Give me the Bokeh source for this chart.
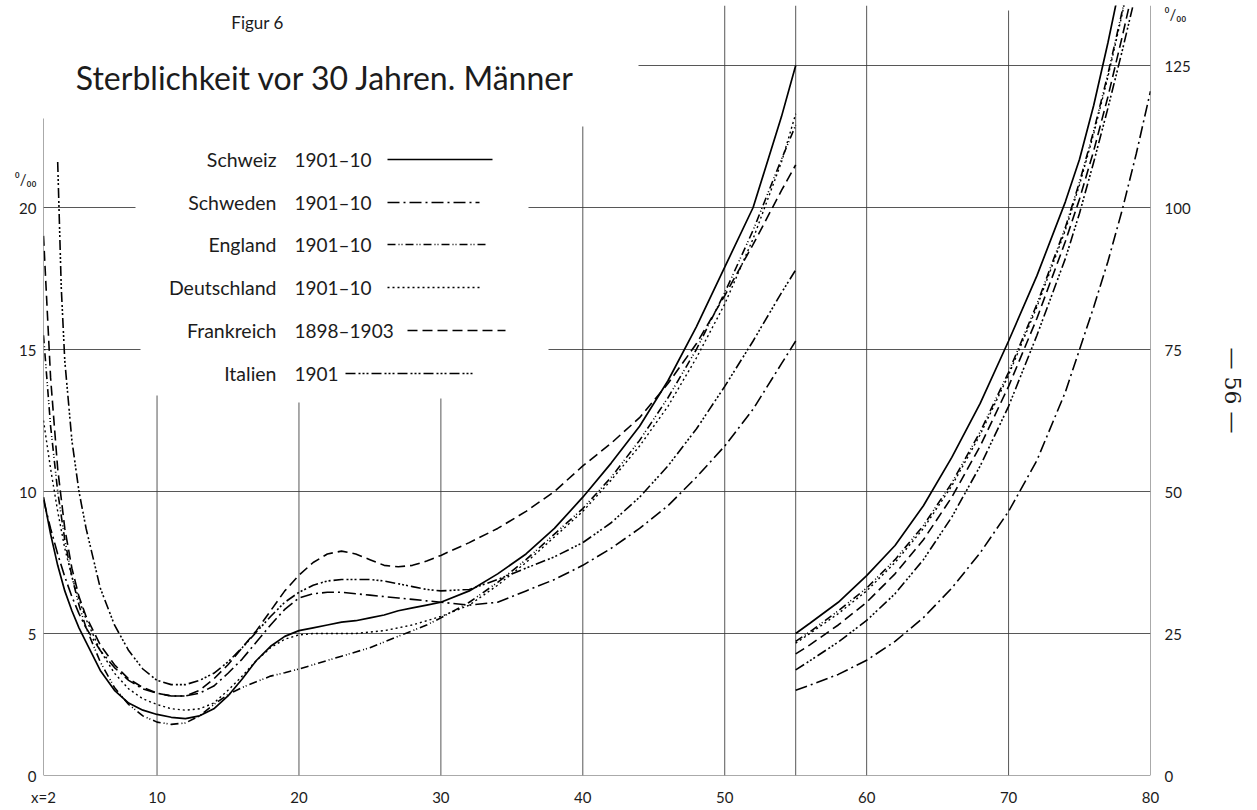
import math
import numpy as np
from bokeh.plotting import figure
from bokeh.models import Range1d, LinearAxis, FixedTicker, Label
from bokeh.embed import file_html
from bokeh.resources import INLINE

# ---------------- data (mortality per mille, males) ----------------
# ages 2..55 : left scale (0/00)
ages_young = [2, 2.5, 3, 3.5, 4, 4.5, 5, 6, 7, 8, 9, 10, 11, 12, 13, 14, 15, 16, 17, 18, 19,
              20, 21, 22, 23, 24, 25, 26, 27, 28, 29, 30, 32, 34, 36, 38, 40, 42, 44, 46, 48,
              50, 52, 54, 55]
schweiz_young = [9.8, 8.5, 7.4, 6.5, 5.8, 5.2, 4.7, 3.7, 3.0, 2.55, 2.3, 2.15, 2.05, 2.0, 2.1,
                 2.35, 2.8, 3.4, 4.05, 4.55, 4.9, 5.1, 5.2, 5.3, 5.4, 5.45, 5.55, 5.65, 5.8, 5.9,
                 6.0, 6.1, 6.5, 7.1, 7.8, 8.7, 9.8, 11.0, 12.3, 13.9, 15.8, 17.9, 20.0, 23.2, 25.0]
schweden_young = [9.7, 8.7, 7.8, 7.0, 6.3, 5.7, 5.2, 4.4, 3.8, 3.35, 3.05, 2.9, 2.8, 2.8, 2.9,
                  3.15, 3.6, 4.1, 4.7, 5.3, 5.85, 6.25, 6.4, 6.45, 6.45, 6.4, 6.35, 6.3, 6.25, 6.2,
                  6.15, 6.1, 6.0, 6.1, 6.5, 6.9, 7.4, 8.0, 8.7, 9.5, 10.5, 11.6, 12.9, 14.5, 15.3]
england_young = [15.5, 12.3, 10.0, 8.3, 7.0, 6.0, 5.2, 4.0, 3.1, 2.5, 2.1, 1.88, 1.8, 1.85, 2.1,
                 2.5, 2.85, 3.1, 3.3, 3.5, 3.62, 3.75, 3.9, 4.05, 4.2, 4.35, 4.5, 4.7, 4.9, 5.1,
                 5.3, 5.55, 6.1, 6.8, 7.6, 8.5, 9.4, 10.5, 11.8, 13.3, 15.0, 17.0, 19.2, 21.7, 22.9]
deutschland_young = [12.5, 10.8, 9.3, 8.0, 7.0, 6.2, 5.5, 4.4, 3.6, 3.05, 2.7, 2.5, 2.35, 2.3,
                     2.35, 2.55, 3.0, 3.5, 4.05, 4.5, 4.8, 4.95, 5.0, 5.0, 5.0, 5.0, 5.05, 5.1,
                     5.2, 5.3, 5.45, 5.6, 6.0, 6.7, 7.5, 8.4, 9.3, 10.4, 11.6, 13.0, 14.7, 16.6,
                     18.9, 21.6, 23.3]
frankreich_young = [19.0, 14.0, 10.8, 8.7, 7.3, 6.3, 5.6, 4.6, 3.9, 3.4, 3.1, 2.9, 2.8, 2.8, 3.0,
                    3.4, 3.9, 4.5, 5.1, 5.8, 6.5, 7.05, 7.5, 7.8, 7.9, 7.8, 7.6, 7.4, 7.35, 7.4,
                    7.55, 7.75, 8.2, 8.7, 9.3, 10.0, 10.9, 11.7, 12.6, 13.8, 15.2, 16.9, 18.7,
                    20.6, 21.5]
italien_ages_young = [3, 3.25, 3.5, 4, 4.5, 5, 6, 7, 8, 9, 10, 11, 12, 13, 14, 15, 16, 17, 18,
                      19, 20, 21, 22, 23, 24, 25, 26, 27, 28, 29, 30, 32, 34, 36, 38, 40, 42,
                      44, 46, 48, 50, 52, 54, 55]
italien_young = [21.6, 17.2, 14.6, 11.8, 10.0, 8.7, 6.6, 5.3, 4.4, 3.75, 3.35, 3.2, 3.2, 3.35,
                 3.6, 4.0, 4.5, 5.05, 5.6, 6.1, 6.45, 6.7, 6.85, 6.9, 6.9, 6.9, 6.85, 6.75, 6.65,
                 6.55, 6.5, 6.55, 6.9, 7.3, 7.7, 8.2, 8.9, 9.8, 10.9, 12.2, 13.7, 15.3, 17.0,
                 17.8]

# ages 55..80 : right scale (0/00)
schweiz_old_ages = [55, 56, 58, 60, 62, 64, 66, 68, 70, 72, 74, 75, 76, 77, 78]
schweiz_old = [25.0, 26.8, 30.5, 35.2, 40.5, 47.5, 56.0, 65.5, 76.5, 88.0, 101.0, 108.5, 118.0,
               129.0, 141.0]
old_ages = [55, 56, 58, 60, 62, 64, 66, 68, 70, 72, 74, 75, 76, 77, 78, 79]
deutschland_old = [23.3, 25.0, 28.5, 32.5, 37.5, 43.5, 51.0, 60.0, 70.5, 82.5, 96.0, 104.0,
                   113.0, 123.0, 134.0, 146.0]
england_old = [23.6, 25.3, 29.0, 33.0, 38.0, 44.0, 51.5, 60.5, 71.0, 83.0, 96.5, 104.5, 113.5,
               123.5, 134.5, 146.0]
frankreich_old = [21.4, 23.0, 26.5, 30.5, 35.5, 41.5, 49.0, 58.0, 68.5, 80.5, 94.0, 101.5, 110.0,
                  119.5, 130.0, 141.0]
italien_old = [18.6, 20.2, 23.5, 27.3, 32.0, 38.0, 45.5, 54.5, 65.0, 77.5, 91.0, 99.0, 108.0,
               117.5, 127.5, 138.0]
schweden_old_ages = [55, 56, 58, 60, 62, 64, 66, 68, 70, 72, 74, 75, 76, 77, 78, 79, 80]
schweden_old = [15.0, 15.9, 17.8, 20.3, 23.6, 27.8, 33.0, 39.2, 46.5, 55.5, 67.5, 75.0, 82.5,
                90.5, 99.5, 109.5, 120.5]

series_names = ["Schweiz", "Schweden", "England", "Deutschland", "Frankreich", "Italien"]
series_periods = ["1901–10", "1901–10", "1901–10", "1901–10", "1898–1903", "1901"]

x_ticks = [2, 10, 20, 30, 40, 50, 60, 70, 80]
left_ticks = [0, 5, 10, 15, 20]
right_ticks = [0, 25, 50, 75, 100, 125]
PERMILLE = "⁰/₀₀"
LEFT_UNIT_AT = 21      # left scale value where the unit mark stands
RIGHT_UNIT_AT = 134    # right scale value where the unit mark stands
PAGE_NUMBER = "— 56 —"

# ---------------- layout ----------------
W, H = 1257, 810
B_LEFT, B_RIGHT, B_TOP, B_BOTTOM = 43, 107, 5, 35
FW = W - B_LEFT - B_RIGHT
FH = H - B_TOP - B_BOTTOM
X_MIN, X_MAX = 2, 80
PX_PER_UNIT = 28.4
Y_MAX = FH / PX_PER_UNIT
RIGHT_FACTOR = 5


def fx(px):
    return X_MIN + (px - B_LEFT) * (X_MAX - X_MIN) / FW


def fy(py):
    return (B_TOP + FH - py) / PX_PER_UNIT


FONT = "Lato"
INK = "#1c1c1c"

p = figure(width=W, height=H, x_range=Range1d(X_MIN, X_MAX), y_range=Range1d(0, Y_MAX),
           output_backend="svg", toolbar_location=None,
           min_border_left=B_LEFT, min_border_right=B_RIGHT,
           min_border_top=B_TOP, min_border_bottom=B_BOTTOM)
p.outline_line_color = None
p.xgrid.visible = False
p.ygrid.visible = False
p.background_fill_color = "white"
p.extra_y_ranges = {"right": Range1d(0, Y_MAX * RIGHT_FACTOR)}

right_axis = LinearAxis(y_range_name="right")
p.add_layout(right_axis, "right")

p.xaxis.ticker = FixedTicker(ticks=x_ticks)
p.xaxis.major_label_overrides = {2: "x=2"}
p.yaxis.ticker = FixedTicker(ticks=left_ticks + [LEFT_UNIT_AT])
p.yaxis.major_label_overrides = {LEFT_UNIT_AT: PERMILLE}
right_axis.ticker = FixedTicker(ticks=right_ticks + [RIGHT_UNIT_AT])
right_axis.major_label_overrides = {RIGHT_UNIT_AT: PERMILLE}

for ax in [p.xaxis[0], p.yaxis[0], right_axis]:
    ax.axis_line_color = None
    ax.major_tick_line_color = None
    ax.minor_tick_line_color = None
    ax.major_tick_out = 0
    ax.major_tick_in = 0
    ax.minor_tick_out = 0
    ax.minor_tick_in = 0
    ax.major_label_text_font = FONT
    ax.major_label_text_font_size = "15px"
    ax.major_label_text_color = INK
p.xaxis.major_label_standoff = 12
p.yaxis.major_label_standoff = 7
right_axis.major_label_standoff = 14

# page number of the printed original, set in the right margin
right_axis.axis_label = PAGE_NUMBER
right_axis.axis_label_text_font = "DejaVu Serif"
right_axis.axis_label_text_font_size = "22px"
right_axis.axis_label_text_font_style = "normal"
right_axis.axis_label_text_color = INK
right_axis.axis_label_standoff = 26

# ---------------- grid (drawn like the original: partial lines) ----------------
GRID = "#3a3a3a"
v_x = [2, 10, 20, 30, 40, 50, 55, 60, 70, 80]
v_top = [fy(118), fy(395), fy(402), fy(398), fy(126), Y_MAX, Y_MAX, Y_MAX, fy(10), Y_MAX]
p.segment(x0=v_x, y0=[0] * len(v_x), x1=v_x, y1=v_top, line_color=GRID, line_width=1,
          line_alpha=0.85)
h_x0 = [2, 2, 2, 2, fx(548), 2, fx(528), fx(638)]
h_x1 = [80, 80, 80, fx(140), 80, fx(135), 80, 80]
h_y = [0, 5, 10, 15, 15, 20, 20, 25]
p.segment(x0=h_x0, y0=h_y, x1=h_x1, y1=h_y, line_color=GRID, line_width=1, line_alpha=0.85)

# ---------------- curves ----------------
dashes = {
    "Schweiz": "solid",
    "Schweden": "12 4 2 4",
    "England": "8 3 1 2 1 3",
    "Deutschland": "2 3",
    "Frankreich": "10 5",
    "Italien": "10 3 2 2 2 2 2 3",
}
widths = {"Schweiz": 1.7, "Schweden": 1.6, "England": 1.6, "Deutschland": 1.4,
          "Frankreich": 1.6, "Italien": 1.6}

young = {
    "Schweiz": (ages_young, schweiz_young),
    "Schweden": (ages_young, schweden_young),
    "England": (ages_young, england_young),
    "Deutschland": (ages_young, deutschland_young),
    "Frankreich": (ages_young, frankreich_young),
    "Italien": (italien_ages_young, italien_young),
}
old = {
    "Schweiz": (schweiz_old_ages, schweiz_old),
    "Schweden": (schweden_old_ages, schweden_old),
    "England": (old_ages, england_old),
    "Deutschland": (old_ages, deutschland_old),
    "Frankreich": (old_ages, frankreich_old),
    "Italien": (old_ages, italien_old),
}
for name in series_names:
    xs, ys = young[name]
    p.line(np.array(xs, dtype=float), np.array(ys, dtype=float), line_color="black",
           line_width=widths[name], line_dash=dashes[name])
    xs, ys = old[name]
    p.line(np.array(xs, dtype=float), np.array(ys, dtype=float), line_color="black",
           line_width=widths[name], line_dash=dashes[name], y_range_name="right")

# ---------------- legend (label left, sample right) ----------------
row_py = [159, 202, 244, 287, 330, 373]
name_right_px = 276
period_left_px = 294
sample_px = [(387, 492), (387, 479), (387, 487), (387, 479), (407, 505), (345, 473)]
for i, name in enumerate(series_names):
    yy = fy(row_py[i])
    p.add_layout(Label(x=fx(name_right_px), y=yy, text=name, text_align="right",
                       text_baseline="middle", text_font=FONT, text_font_size="19.5px",
                       text_color=INK))
    p.add_layout(Label(x=fx(period_left_px), y=yy, text=series_periods[i], text_align="left",
                       text_baseline="middle", text_font=FONT, text_font_size="19px",
                       text_color=INK))
    sx0, sx1 = sample_px[i]
    p.line([fx(sx0), fx(sx1)], [yy, yy], line_color="black", line_width=widths[name],
           line_dash=dashes[name])

# ---------------- titles ----------------
p.add_layout(Label(x=fx(257), y=fy(22), text="Figur 6", text_align="center",
                   text_baseline="middle", text_font=FONT, text_font_size="17px",
                   text_color=INK))
p.add_layout(Label(x=fx(325), y=fy(77), text="Sterblichkeit vor 30 Jahren. Männer",
                   text_align="center", text_baseline="middle", text_font=FONT,
                   text_font_size="32px", text_color=INK))

open("out.html", "w").write(file_html(p, INLINE))
